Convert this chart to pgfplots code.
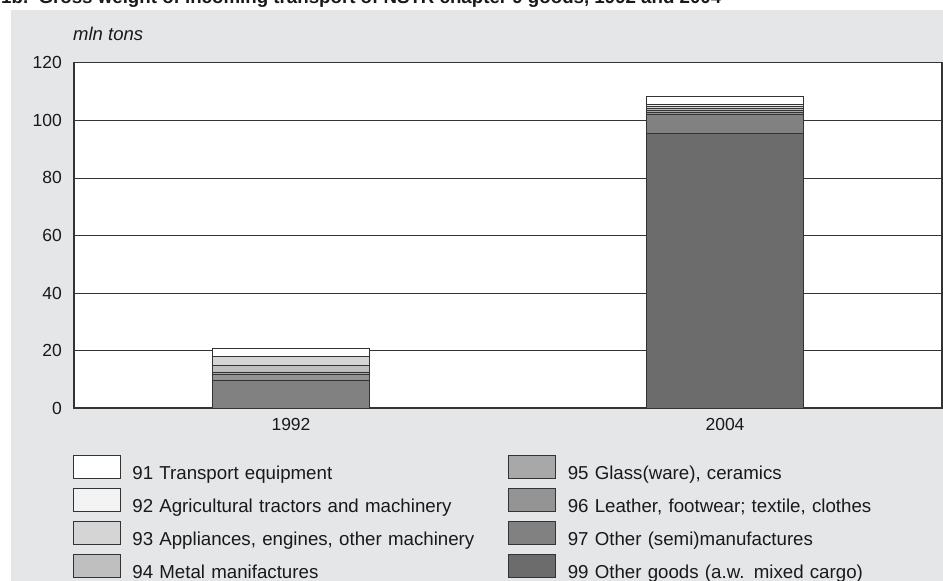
\documentclass[border=0pt]{standalone}
\usepackage{pgfplots}
\usepackage{pgfplotstable}
\pgfplotsset{compat=1.18}
\usepackage{fontspec}
\setmainfont{Liberation Sans}
\definecolor{bg}{HTML}{E5E6E7}
\definecolor{c91}{HTML}{FFFFFF}
\definecolor{c92}{HTML}{F3F3F3}
\definecolor{c93}{HTML}{D5D5D5}
\definecolor{c94}{HTML}{BFBFBF}
\definecolor{c95}{HTML}{A8A8A8}
\definecolor{c96}{HTML}{949494}
\definecolor{c97}{HTML}{818181}
\definecolor{c99}{HTML}{6C6C6C}
\definecolor{edge}{HTML}{333333}
\pgfplotstableread{
x v99 v97 v96 v95 v94 v93 v92 v91
0 0 9.9 2.0 0.8 2.3 3.0 0.2 2.7
1 95.4 6.7 0.6 0.8 0.7 0.8 0.6 2.8
}\data
\begin{document}
\begin{tikzpicture}[x=1pt,y=1pt]
\useasboundingbox (0,0) rectangle (943,581);
\fill[bg] (11,0) rectangle (943,571);
\node[anchor=base west, font=\fontsize{18.7}{22}\selectfont\bfseries, inner sep=0pt, text=black!90] at (1,577) {1b.\ \ Gross weight of incoming transport of NSTR chapter 9 goods, 1992 and 2004};
\node[anchor=base west, font=\fontsize{18.5}{22}\selectfont\itshape, inner sep=0pt, text=black!90] at (73,540.3) {mln tons};
\begin{axis}[
  at={(74pt,172.5pt)}, anchor=south west,
  scale only axis, width=868pt, height=345.8pt,
  ybar stacked, bar width=0.362,
  xmin=-0.5, xmax=1.5, ymin=0, ymax=120,
  xtick={0,1}, xticklabels={1992,2004},
  ytick={0,20,40,60,80,100,120},
  major tick length=0pt,
  ymajorgrids, grid style={edge, line width=0.9pt},
  axis line style={edge, line width=1.1pt},
  axis background/.style={fill=white},
  /pgf/number format/assume math mode=true,
  tick label style={font=\fontsize{17.5}{20}\selectfont, text=black!90},
  xticklabel style={anchor=base, inner sep=0pt, yshift=-21.5pt},
  yticklabel style={anchor=east, inner sep=0pt, xshift=-12pt},
  legend columns=2,
  legend image code/.code={%
    \draw[#1, line width=0.8pt] (0pt,-11.5pt) rectangle (47pt,11.5pt);
    \path[draw=none, fill=none] (0pt,0pt) (59pt,0pt);},
  legend style={at={(rel axis cs:-0.0012,-0.1206)}, anchor=north west,
    draw=none, fill=none, inner sep=0pt, outer sep=0pt,
    column sep=0pt, row sep=0pt,
    font=\fontsize{18.7}{22}\selectfont, text=black!90,
    cells={anchor=west},
    nodes={inner sep=0pt, outer sep=0pt},
    /tikz/every even column/.append style={nodes={text width=376pt, text height=29pt, text depth=4pt, align=left}}},
  every axis plot/.append style={draw=edge, line width=0.8pt},
]
\addplot[fill=c99, forget plot] table[x=x, y=v99]{\data};
\addplot[fill=c97, forget plot] table[x=x, y=v97]{\data};
\addplot[fill=c96, forget plot] table[x=x, y=v96]{\data};
\addplot[fill=c95, forget plot] table[x=x, y=v95]{\data};
\addplot[fill=c94, forget plot] table[x=x, y=v94]{\data};
\addplot[fill=c93, forget plot] table[x=x, y=v93]{\data};
\addplot[fill=c92, forget plot] table[x=x, y=v92]{\data};
\addplot[fill=c91, forget plot] table[x=x, y=v91]{\data};
\addlegendimage{fill=c91, draw=edge}\addlegendentry{91 Transport equipment}
\addlegendimage{fill=c95, draw=edge}\addlegendentry{95 Glass(ware), ceramics}
\addlegendimage{fill=c92, draw=edge}\addlegendentry{92 Agricultural tractors and machinery}
\addlegendimage{fill=c96, draw=edge}\addlegendentry{96 Leather, footwear; textile, clothes}
\addlegendimage{fill=c93, draw=edge}\addlegendentry{93 Appliances, engines, other machinery}
\addlegendimage{fill=c97, draw=edge}\addlegendentry{97 Other (semi)manufactures}
\addlegendimage{fill=c94, draw=edge}\addlegendentry{94 Metal manifactures}
\addlegendimage{fill=c99, draw=edge}\addlegendentry{99 Other goods (a.w. mixed cargo)}
\draw[edge, line width=2pt] (rel axis cs:0,0) -- (rel axis cs:1,0);
\draw[edge, line width=1.6pt] (rel axis cs:1,0) -- (rel axis cs:1,1);
\end{axis}
\end{tikzpicture}
\end{document}
